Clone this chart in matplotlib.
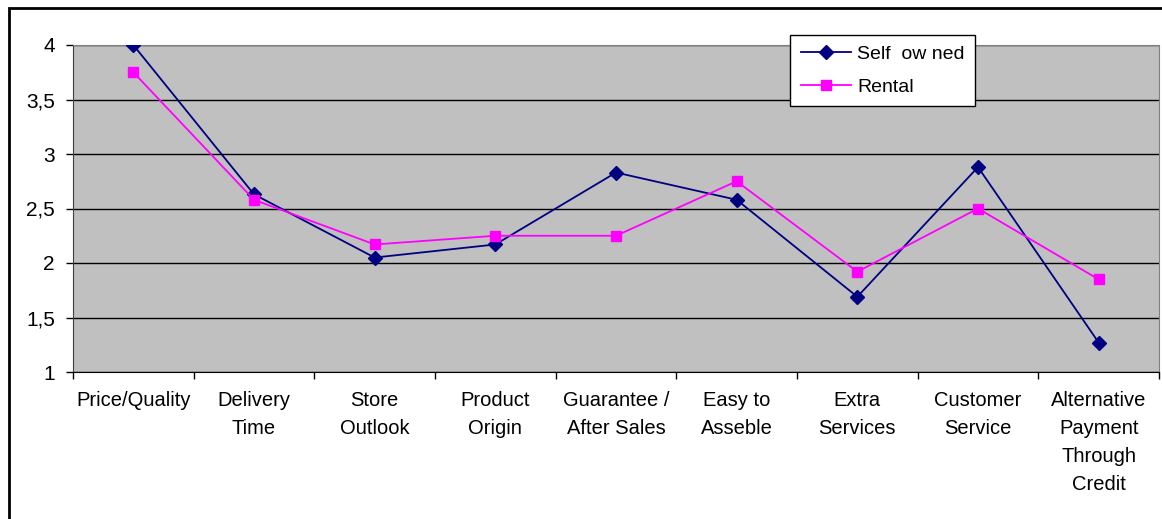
import matplotlib
matplotlib.use("Agg")
import matplotlib.pyplot as plt
from matplotlib.patches import Rectangle
import numpy as np

categories = ["Price/Quality", "Delivery\nTime", "Store\nOutlook", "Product\nOrigin",
              "Guarantee /\nAfter Sales", "Easy to\nAsseble", "Extra\nServices",
              "Customer\nService", "Alternative\nPayment\nThrough\nCredit"]
self_owned = [4.0, 2.63, 2.05, 2.17, 2.83, 2.58, 1.69, 2.88, 1.27]
rental = [3.75, 2.58, 2.17, 2.25, 2.25, 2.75, 1.92, 2.5, 1.85]
yticks = [1, 1.5, 2, 2.5, 3, 3.5, 4]
ytick_labels = ["1", "1,5", "2", "2,5", "3", "3,5", "4"]

plt.rcParams['font.family'] = ['Liberation Sans', 'DejaVu Sans']

W, H = 1162, 519
fig = plt.figure(figsize=(W/100, H/100), dpi=100)
ax = fig.add_axes([73/W, 1-372/H, (1159-73)/W, (372-45)/H])

# outer chart border
fig.patches.append(Rectangle((9/W, -0.1), 1.2, 1-8/H+0.1, transform=fig.transFigure,
                             fill=False, edgecolor='black', linewidth=2))

ax.set_facecolor('#C0C0C0')
x = np.arange(len(categories))
ax.plot(x, self_owned, color='#000080', marker='D', markersize=7, linewidth=1.3,
        label='Self  ow ned', zorder=3)
ax.plot(x, rental, color='#FF00FF', marker='s', markersize=7, linewidth=1.3,
        label='Rental', zorder=3)

ax.set_xlim(-0.5, len(categories) - 0.5)
ax.set_ylim(1, 4)
ax.set_yticks(yticks)
ax.set_yticklabels(ytick_labels, fontsize=15)
ax.yaxis.grid(True, color='black', linewidth=1)
ax.set_axisbelow(True)

ax.set_xticks(x)
ax.set_xticklabels(categories, fontsize=14.5, linespacing=1.6, va='top')
ax.tick_params(axis='x', which='major', length=0, pad=14)
ax.set_xticks(np.arange(-0.5, len(categories)), minor=True)
ax.tick_params(axis='x', which='minor', length=5, width=1, direction='out')
ax.tick_params(axis='y', length=5, width=1, direction='out', pad=8)

for s in ['top', 'right']:
    ax.spines[s].set_color('#808080')
ax.spines['left'].set_color('#404040')
ax.spines['bottom'].set_color('black')

leg = ax.legend(loc='upper left', bbox_to_anchor=((790-73)/(1159-73), 1+10/327),
                fontsize=14, frameon=True, fancybox=False, edgecolor='black',
                framealpha=1, handlelength=2.6, handletextpad=0.3,
                borderpad=0.55, labelspacing=0.75, borderaxespad=0)
leg.get_frame().set_linewidth(1)

fig.savefig("out.png", dpi=100)
